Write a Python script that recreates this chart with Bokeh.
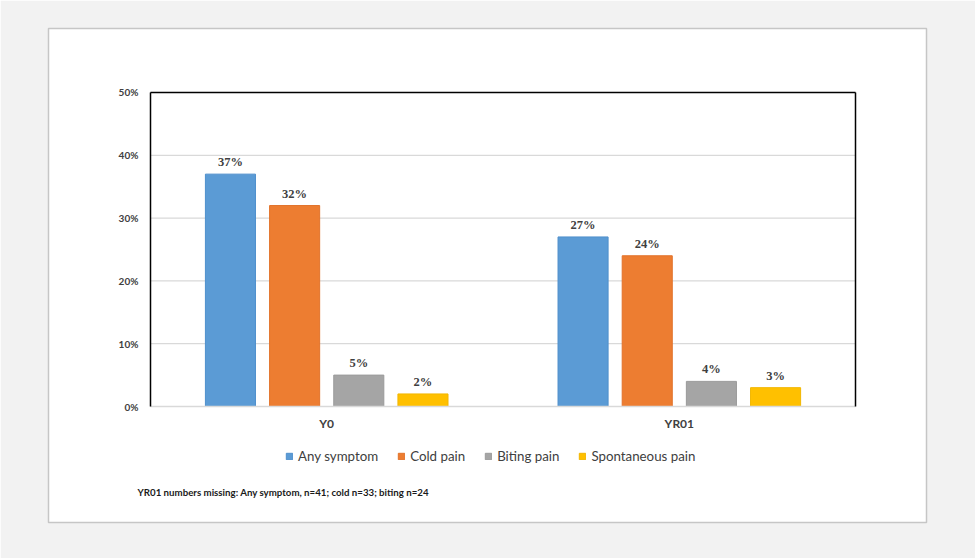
from bokeh.plotting import figure
from bokeh.models import (ColumnDataSource, Range1d, LabelSet, Legend, LegendItem,
                          Label, FixedTicker, PrintfTickFormatter, LinearAxis)
from bokeh.transform import dodge
from bokeh.embed import file_html
from bokeh.resources import INLINE

# ---- data ----
periods = ["Y0", "YR01"]
series_names = ["Any symptom", "Cold pain", "Biting pain", "Spontaneous pain"]
any_symptom = [37, 27]
cold_pain = [32, 24]
biting_pain = [5, 4]
spontaneous_pain = [2, 3]
y_ticks = [0, 10, 20, 30, 40, 50]
footnote = "YR01 numbers missing: Any symptom, n=41;  cold n=33; biting n=24"

colors = ["#5b9bd5", "#ed7d31", "#a5a5a5", "#ffc000"]
edge_colors = ["#4f8fcc", "#e2722a", "#9a9a9a", "#f2b600"]
offsets = [-0.273, -0.091, 0.091, 0.273]
keys = ["any", "cold", "biting", "spont"]

xpos = [i + 0.5 for i in range(len(periods))]
data = {"period": periods, "xpos": xpos, "any": any_symptom, "cold": cold_pain,
        "biting": biting_pain, "spont": spontaneous_pain}
for k in keys:
    data[k + "_lbl"] = [f"{v}%" for v in data[k]]
source = ColumnDataSource(data)

FONT = "Lato"
n_cat = len(periods)
y_max = y_ticks[-1]

# frame = white panel; chart area is the [0, n_cat] x [0, 50] region inside it
p = figure(width=975, height=558, output_backend="svg", toolbar_location=None,
           x_range=Range1d(-0.289, 2.201), y_range=Range1d(-18.47, 60.19),
           min_border_left=48, min_border_right=49, min_border_top=28, min_border_bottom=36)
p.border_fill_color = "#f2f2f2"
p.background_fill_color = "#ffffff"
p.outline_line_color = "#c6c6c6"
p.outline_line_width = 1.5

# horizontal gridlines limited to the chart area
grid_src = ColumnDataSource({"y": y_ticks[1:], "x0": [0] * (len(y_ticks) - 1),
                             "x1": [n_cat] * (len(y_ticks) - 1)})
p.segment(x0="x0", x1="x1", y0="y", y1="y", source=grid_src,
          line_color="#d9d9d9", line_width=1.2, level="underlay")

renderers = []
for k, off, c, ec in zip(keys, offsets, colors, edge_colors):
    r = p.vbar(x=dodge("xpos", off), top=k, width=0.142, source=source,
               fill_color=c, line_color=ec, line_width=1)
    renderers.append(r)
    lbl = LabelSet(x=dodge("xpos", off), y=k, text=k + "_lbl", source=source,
                   text_align="center", text_baseline="bottom", y_offset=5,
                   text_font=FONT, text_font_style="bold", text_font_size="12.5px",
                   text_color="#404040")
    p.add_layout(lbl)

# y axis (black line at x=0)
ya = p.yaxis[0]
ya.fixed_location = 0
ya.bounds = (0, y_max)
ya.ticker = FixedTicker(ticks=y_ticks)
ya.formatter = PrintfTickFormatter(format="%d%%")
ya.axis_line_color = "#000000"
ya.axis_line_width = 1.5
ya.major_tick_line_color = None
ya.minor_tick_line_color = None
ya.major_tick_out = 0
ya.major_tick_in = 0
ya.major_label_standoff = 12
ya.major_label_text_font = FONT
ya.major_label_text_font_style = "bold"
ya.major_label_text_font_size = "10px"
ya.major_label_text_color = "#404040"

# x axis (grey line at y=0)
xa = p.xaxis[0]
xa.fixed_location = 0
xa.bounds = (0, n_cat)
xa.ticker = FixedTicker(ticks=xpos)
xa.major_label_overrides = {x: lab for x, lab in zip(xpos, periods)}
xa.axis_line_color = "#d9d9d9"
xa.axis_line_width = 1.5
xa.major_tick_line_color = None
xa.minor_tick_line_color = None
xa.major_tick_out = 0
xa.major_tick_in = 0
xa.major_label_standoff = 9
xa.major_label_text_font = FONT
xa.major_label_text_font_style = "bold"
xa.major_label_text_font_size = "12px"
xa.major_label_text_color = "#404040"

p.xgrid.grid_line_color = None
p.ygrid.grid_line_color = None

# plot-area border on top and right
top_axis = LinearAxis(fixed_location=y_max, bounds=(0, n_cat), ticker=FixedTicker(ticks=[]),
                      axis_line_color="#000000", axis_line_width=1.5,
                      major_tick_line_color=None, minor_tick_line_color=None,
                      major_tick_out=0, major_tick_in=0,
                      major_label_text_font_size="0px", major_label_text_color=None)
p.add_layout(top_axis, "above")
right_axis = LinearAxis(fixed_location=n_cat, bounds=(0, y_max), ticker=FixedTicker(ticks=[]),
                        axis_line_color="#000000", axis_line_width=1.5,
                        major_tick_line_color=None, minor_tick_line_color=None,
                        major_tick_out=0, major_tick_in=0,
                        major_label_text_font_size="0px", major_label_text_color=None)
p.add_layout(right_axis, "right")

# legend
legend = Legend(items=[LegendItem(label=n, renderers=[r]) for n, r in zip(series_names, renderers)],
                orientation="horizontal", location=(237, 58),
                glyph_width=8, glyph_height=8, label_standoff=5, spacing=19,
                padding=0, margin=0, label_height=14,
                label_text_font=FONT, label_text_font_size="13.3px", label_text_color="#404040",
                border_line_color=None, background_fill_alpha=0)
p.add_layout(legend, "center")

note = Label(x=89, y=31, x_units="screen", y_units="screen", text=footnote,
             text_font=FONT, text_font_size="9.7px", text_font_style="bold",
             text_baseline="middle", text_color="#1a1a1a")
p.add_layout(note)

open("out.html", "w").write(file_html(p, INLINE))
